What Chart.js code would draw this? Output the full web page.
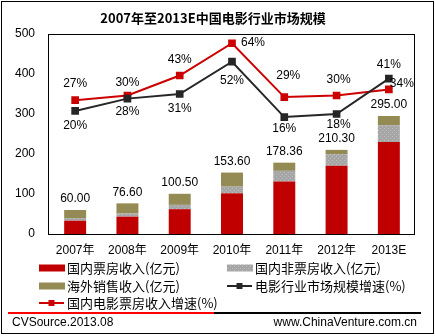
<!DOCTYPE html>
<html>
<head>
<meta charset="utf-8">
<script src="https://cdn.jsdelivr.net/npm/chart.js@4.4.1/dist/chart.umd.min.js"></script>
<style>
  html, body { margin: 0; padding: 0; background: #fff; }
  #wrap { width: 435px; height: 336px; position: relative; }
</style>
</head>
<body>
<div id="wrap"><canvas id="chart" width="435" height="336"></canvas></div>
<script>
// 中国电影行业市场规模 (亿元) and growth rates (%)
const years = ['2007年', '2008年', '2009年', '2010年', '2011年', '2012年', '2013E'];
const boxOffice    = [33.27, 43.41, 62.06, 101.72, 131.15, 170.73, 230];
const nonBoxOffice = [6.53, 7.91, 10.74, 16.71, 26.75, 28.94, 42];
const overseas     = [20.2, 25.28, 27.7, 35.17, 20.46, 10.63, 23];
const marketGrowth    = [20, 28, 31, 52, 16, 18, 41];
const boxOfficeGrowth = [27, 30, 43, 64, 29, 30, 34];
const yTickValues = [0, 100, 200, 300, 400, 500];

const titleText = '2007年至2013E中国电影行业市场规模';
const sourceText = 'CVSource.2013.08';
const siteText = 'www.ChinaVenture.com.cn';

const LATIN = '"Liberation Sans", Arial, "Noto Sans CJK SC", sans-serif';
const CJK = '"Noto Sans CJK SC", "Liberation Sans", sans-serif';
const RED = '#C00000';
const OLIVE = '#948A54';
const LINE_RED = '#CC0000';
const LINE_BLACK = '#262626';

// where each growth label sits relative to its marker (dx, dy)
const boxGrowthLabelOffset = [[0, -16], [0, -13], [0, -16], [21, -1], [4, -21], [2, -16], [13, -6]];
const marketGrowthLabelOffset = [[0, 15], [0, 13], [0, 15], [0, 19], [0, 12], [2, 11], [0, -14]];

const canvas = document.getElementById('chart');
const ctx0 = canvas.getContext('2d');

// dotted grey fill used for the non-box-office segment
function makeGrayPattern() {
  const c = document.createElement('canvas');
  c.width = 4; c.height = 4;
  const g = c.getContext('2d');
  g.fillStyle = '#A6A6A6';
  g.fillRect(0, 0, 4, 4);
  g.fillStyle = '#BDBDBD';
  g.fillRect(0, 0, 1, 1);
  g.fillRect(2, 2, 1, 1);
  return ctx0.createPattern(c, 'repeat');
}
const GRAY = makeGrayPattern();

function drawSwatch(ctx, ds, x, y) {
  if (ds.type === 'line') {
    ctx.strokeStyle = ds.borderColor;
    ctx.lineWidth = 2;
    ctx.beginPath();
    ctx.moveTo(x, y);
    ctx.lineTo(x + 25, y);
    ctx.stroke();
    ctx.fillStyle = ds.borderColor;
    ctx.fillRect(x + 9.5, y - 3, 6, 6);
  } else {
    ctx.fillStyle = ds.backgroundColor;
    ctx.fillRect(x, y - 3.5, 26, 7);
  }
}

const decor = {
  id: 'decor',
  afterDraw(chart) {
    const { ctx, chartArea: a } = chart;
    ctx.save();

    // plot frame and outer frame
    ctx.strokeStyle = '#000';
    ctx.lineWidth = 1;
    ctx.strokeRect(Math.round(a.left) - 0.5, Math.round(a.top) + 0.5,
      Math.round(a.right - a.left), Math.round(a.bottom - a.top));
    ctx.strokeRect(1.5, 1.5, 432, 332);

    // title
    ctx.fillStyle = '#000';
    ctx.font = 'bold 13px ' + CJK;
    ctx.textAlign = 'center';
    ctx.textBaseline = 'middle';
    ctx.fillText(titleText, 213, 18);

    // stack totals above the bars
    ctx.font = '12px ' + LATIN;
    const yScale = chart.scales.y;
    const barMeta = chart.getDatasetMeta(0);
    years.forEach((_, i) => {
      const total = boxOffice[i] + nonBoxOffice[i] + overseas[i];
      const x = barMeta.data[i].x;
      ctx.fillText(total.toFixed(2), x, yScale.getPixelForValue(total) - 11);
    });

    // growth labels
    const drawPct = (dsIndex, values, offsets) => {
      const meta = chart.getDatasetMeta(dsIndex);
      values.forEach((v, i) => {
        const p = meta.data[i];
        ctx.fillText(v + '%', p.x + offsets[i][0], p.y + offsets[i][1]);
      });
    };
    drawPct(3, marketGrowth, marketGrowthLabelOffset);
    drawPct(4, boxOfficeGrowth, boxGrowthLabelOffset);

    // legend, two columns
    const cols = [39, 227];
    const rows = [268, 286, 303];
    ctx.textAlign = 'left';
    chart.data.datasets.forEach((ds, k) => {
      const x = cols[k % 2];
      const y = rows[Math.floor(k / 2)];
      drawSwatch(ctx, ds, x, y);
      ctx.fillStyle = '#000';
      ctx.font = '13px ' + CJK;
      ctx.fillText(ds.label, x + 28, y);
    });

    // footer rule and sources
    ctx.fillStyle = '#FF0000';
    ctx.fillRect(8, 312, 206, 2);
    ctx.fillStyle = '#000';
    ctx.fillRect(214, 312, 207, 2);
    ctx.font = '12px ' + LATIN;
    ctx.textAlign = 'left';
    ctx.fillText(sourceText, 12, 323);
    ctx.textAlign = 'right';
    ctx.fillText(siteText, 417, 323);

    ctx.restore();
  }
};

const barDefaults = {
  type: 'bar',
  stack: 'total',
  yAxisID: 'y',
  order: 1,
  barPercentage: 0.42,
  categoryPercentage: 1,
  borderWidth: 0,
};

const lineDefaults = {
  type: 'line',
  yAxisID: 'y2',
  order: 0,
  borderWidth: 2,
  pointStyle: 'rect',
  pointRadius: 4,
  tension: 0,
  fill: false,
};

new Chart(canvas, {
  data: {
    labels: years,
    datasets: [
      { ...barDefaults, label: '国内票房收入(亿元)', data: boxOffice, backgroundColor: RED },
      { ...barDefaults, label: '国内非票房收入(亿元)', data: nonBoxOffice, backgroundColor: GRAY },
      { ...barDefaults, label: '海外销售收入(亿元)', data: overseas, backgroundColor: OLIVE },
      { ...lineDefaults, label: '电影行业市场规模增速(%)', data: marketGrowth,
        borderColor: LINE_BLACK, backgroundColor: LINE_BLACK, pointBorderColor: LINE_BLACK },
      { ...lineDefaults, label: '国内电影票房收入增速(%)', data: boxOfficeGrowth,
        borderColor: LINE_RED, backgroundColor: LINE_RED, pointBorderColor: LINE_RED },
    ]
  },
  options: {
    responsive: false,
    animation: false,
    layout: { padding: { left: 0, right: 20, top: 34, bottom: 72 } },
    plugins: {
      legend: { display: false },
      tooltip: { enabled: false },
    },
    scales: {
      x: {
        stacked: true,
        grid: { display: false, drawTicks: false },
        border: { display: false },
        ticks: {
          color: '#000',
          font: { size: 12, family: LATIN },
          padding: 9,
          maxRotation: 0,
        },
        afterFit(scale) { scale.height = 30; },
      },
      y: {
        stacked: true,
        min: 0,
        max: 500,
        grid: { display: false, drawTicks: false },
        border: { display: false },
        afterBuildTicks(scale) { scale.ticks = yTickValues.map(v => ({ value: v })); },
        ticks: {
          color: '#000',
          font: { size: 12, family: LATIN },
          padding: 14,
        },
        afterFit(scale) { scale.width = 49; },
      },
      y2: {
        display: false,
        min: -60,
        max: 70,
      }
    }
  },
  plugins: [decor]
});
</script>
</body>
</html>
